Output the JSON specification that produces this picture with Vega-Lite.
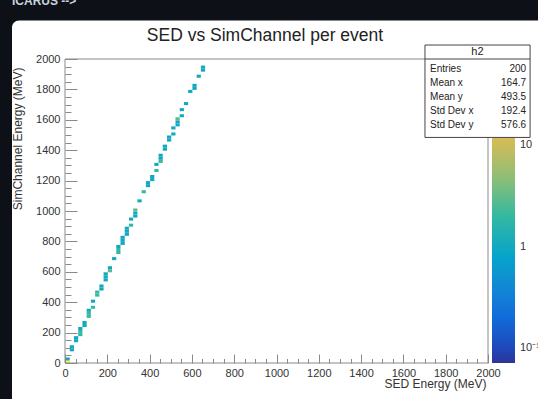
{
  "$schema": "https://vega.github.io/schema/vega-lite/v6.json",
  "width": 423,
  "height": 304,
  "autosize": {"type": "none"},
  "padding": {"left": 65, "top": 59, "right": 50, "bottom": 36},
  "background": "#0d1117",
  "config": {"view": {"stroke": null}, "font": "Liberation Sans", "axis": {"grid": false}},
  "title": {"text": "SED vs SimChannel per event", "font": "Liberation Sans", "fontSize": 17.5, "fontWeight": "normal", "color": "#222222", "anchor": "middle", "frame": "group", "dx": -11.5, "offset": -63.5, "baseline": "alphabetic"},
  "datasets": {
    "cells": [
      {"sed": 0, "sim": 0, "n": 68},
      {"sed": 0, "sim": 20, "n": 1},
      {"sed": 20, "sim": 80, "n": 1}, {"sed": 20, "sim": 100, "n": 1},
      {"sed": 40, "sim": 140, "n": 1}, {"sed": 40, "sim": 160, "n": 1},
      {"sed": 60, "sim": 180, "n": 2}, {"sed": 60, "sim": 200, "n": 2}, {"sed": 60, "sim": 220, "n": 1},
      {"sed": 80, "sim": 240, "n": 1}, {"sed": 80, "sim": 260, "n": 1},
      {"sed": 100, "sim": 300, "n": 2}, {"sed": 100, "sim": 320, "n": 2}, {"sed": 100, "sim": 340, "n": 1},
      {"sed": 120, "sim": 360, "n": 2}, {"sed": 120, "sim": 400, "n": 1},
      {"sed": 140, "sim": 440, "n": 2}, {"sed": 140, "sim": 460, "n": 2},
      {"sed": 160, "sim": 480, "n": 1}, {"sed": 160, "sim": 500, "n": 1},
      {"sed": 180, "sim": 540, "n": 1}, {"sed": 180, "sim": 560, "n": 1}, {"sed": 180, "sim": 580, "n": 1},
      {"sed": 200, "sim": 600, "n": 3}, {"sed": 200, "sim": 620, "n": 1},
      {"sed": 220, "sim": 680, "n": 1},
      {"sed": 240, "sim": 720, "n": 2}, {"sed": 240, "sim": 740, "n": 2}, {"sed": 240, "sim": 760, "n": 1},
      {"sed": 260, "sim": 780, "n": 1}, {"sed": 260, "sim": 800, "n": 1}, {"sed": 260, "sim": 820, "n": 1},
      {"sed": 280, "sim": 840, "n": 1}, {"sed": 280, "sim": 860, "n": 1}, {"sed": 280, "sim": 880, "n": 1},
      {"sed": 300, "sim": 900, "n": 2}, {"sed": 300, "sim": 940, "n": 1},
      {"sed": 320, "sim": 960, "n": 1}, {"sed": 320, "sim": 980, "n": 1}, {"sed": 320, "sim": 1000, "n": 3},
      {"sed": 340, "sim": 1060, "n": 1},
      {"sed": 360, "sim": 1120, "n": 2},
      {"sed": 380, "sim": 1160, "n": 1}, {"sed": 380, "sim": 1180, "n": 1},
      {"sed": 400, "sim": 1200, "n": 1}, {"sed": 400, "sim": 1220, "n": 1},
      {"sed": 420, "sim": 1260, "n": 2}, {"sed": 420, "sim": 1300, "n": 1},
      {"sed": 440, "sim": 1320, "n": 2}, {"sed": 440, "sim": 1340, "n": 1}, {"sed": 440, "sim": 1360, "n": 1},
      {"sed": 460, "sim": 1400, "n": 1}, {"sed": 460, "sim": 1420, "n": 1},
      {"sed": 480, "sim": 1460, "n": 1}, {"sed": 480, "sim": 1480, "n": 1},
      {"sed": 500, "sim": 1500, "n": 1}, {"sed": 500, "sim": 1540, "n": 1},
      {"sed": 520, "sim": 1560, "n": 1}, {"sed": 520, "sim": 1580, "n": 1}, {"sed": 520, "sim": 1600, "n": 3},
      {"sed": 540, "sim": 1620, "n": 1}, {"sed": 540, "sim": 1660, "n": 1},
      {"sed": 560, "sim": 1700, "n": 1},
      {"sed": 580, "sim": 1780, "n": 1},
      {"sed": 600, "sim": 1800, "n": 1}, {"sed": 600, "sim": 1820, "n": 1},
      {"sed": 620, "sim": 1880, "n": 1},
      {"sed": 640, "sim": 1920, "n": 1}, {"sed": 640, "sim": 1940, "n": 1}
    ],
    "stats": [
      {"names": ["Entries", "Mean x", "Mean y", "Std Dev x", "Std Dev y"], "vals": ["200", "164.7", "493.5", "192.4", "576.6"], "hist": "h2"}
    ]
  },
  "resolve": {"scale": {"color": "independent"}, "axis": {"x": "independent", "y": "independent"}},
  "layer": [
    {
      "data": {"values": [{}]},
      "mark": {"type": "rect", "fill": "white", "cornerRadius": 7},
      "encoding": {
        "x": {"datum": -250.6, "type": "quantitative", "scale": {"domain": [0, 2000], "nice": false, "zero": false}, "axis": null},
        "x2": {"datum": 3000},
        "y": {"datum": -600, "type": "quantitative", "scale": {"domain": [0, 2000], "nice": false, "zero": false}, "axis": null},
        "y2": {"datum": 2253}
      }
    },
    {
      "data": {"name": "cells"},
      "mark": {"type": "rect"},
      "encoding": {
        "x": {"field": "sed", "type": "quantitative", "bin": {"binned": true, "step": 20},
          "scale": {"domain": [0, 2000], "nice": false, "zero": false},
          "axis": {"orient": "bottom", "values": [0, 200, 400, 600, 800, 1000, 1200, 1400, 1600, 1800, 2000], "format": "d",
            "tickSize": -9, "labelPadding": 13, "tickColor": "#8a8a8a", "tickWidth": 1, "domain": false,
            "labelFont": "Liberation Sans", "labelFontSize": 11, "labelColor": "#333333", "labelFlush": false, "labelOverlap": false,
            "title": "SED Energy (MeV)", "titleFont": "Liberation Sans", "titleFontSize": 12, "titleFontWeight": "normal", "titleColor": "#333333",
            "titleAnchor": "end", "titleAlign": "right", "titleBaseline": "top", "titleX": 421, "titleY": 15.5, "zindex": 2}},
        "y": {"field": "sim", "type": "quantitative", "bin": {"binned": true, "step": 20},
          "scale": {"domain": [0, 2000], "nice": false, "zero": false},
          "axis": {"orient": "left", "values": [0, 200, 400, 600, 800, 1000, 1200, 1400, 1600, 1800, 2000], "format": "d",
            "tickSize": -12, "labelPadding": 17, "tickColor": "#8a8a8a", "tickWidth": 1, "domain": false,
            "labelFont": "Liberation Sans", "labelFontSize": 11, "labelColor": "#333333", "labelFlush": false, "labelOverlap": false,
            "title": "SimChannel Energy (MeV)", "titleFont": "Liberation Sans", "titleFontSize": 12, "titleFontWeight": "normal", "titleColor": "#333333",
            "titleAngle": -90, "titleAlign": "right", "titleBaseline": "alphabetic", "titleX": -44, "titleY": 8, "zindex": 2}},
        "color": {"field": "n", "type": "quantitative",
          "scale": {"type": "log", "domain": [0.0715, 0.1422, 0.3365, 0.796, 1.883, 4.452, 10.53, 24.9, 58.9, 70.7],
            "range": ["#2d3498", "#0f5cdd", "#1481d6", "#06a4ca", "#2eb7a4", "#87bf77", "#d1bb59", "#fec832", "#f9fb0e", "#f9fb0e"], "interpolate": "rgb"},
          "legend": null}
      }
    },
    {
      "data": {"values": [{}]},
      "mark": {"type": "rect", "fill": "transparent", "stroke": "#8a8a8a", "strokeWidth": 1},
      "encoding": {
        "x": {"datum": 0, "type": "quantitative", "scale": {"domain": [0, 2000], "nice": false, "zero": false}, "axis": null},
        "x2": {"datum": 2000},
        "y": {"datum": 0, "type": "quantitative", "scale": {"domain": [0, 2000], "nice": false, "zero": false}, "axis": null},
        "y2": {"datum": 2000}
      }
    },
    {
      "data": {"name": "cells"},
      "transform": [{"filter": "false"}],
      "mark": {"type": "rect"},
      "encoding": {
        "x": {"field": "sed", "type": "quantitative",
          "scale": {"domain": [0, 2000], "nice": false, "zero": false},
          "axis": {"orient": "bottom", "values": [50, 100, 150, 250, 300, 350, 450, 500, 550, 650, 700, 750, 850, 900, 950, 1050, 1100, 1150, 1250, 1300, 1350, 1450, 1500, 1550, 1650, 1700, 1750, 1850, 1900, 1950],
            "tickSize": -4.5, "tickColor": "#8a8a8a", "tickWidth": 1, "labels": false, "domain": false, "title": null, "zindex": 2}},
        "y": {"field": "sim", "type": "quantitative",
          "scale": {"domain": [0, 2000], "nice": false, "zero": false},
          "axis": {"orient": "left", "values": [50, 100, 150, 250, 300, 350, 450, 500, 550, 650, 700, 750, 850, 900, 950, 1050, 1100, 1150, 1250, 1300, 1350, 1450, 1500, 1550, 1650, 1700, 1750, 1850, 1900, 1950],
            "tickSize": -6, "tickColor": "#8a8a8a", "tickWidth": 1, "labels": false, "domain": false, "title": null, "zindex": 2}},
        "color": {"field": "n", "type": "quantitative",
          "scale": {"type": "log", "domain": [0.0715, 0.1422, 0.3365, 0.796, 1.883, 4.452, 10.53, 11.7],
            "range": ["#2d3498", "#0f5cdd", "#1481d6", "#06a4ca", "#2eb7a4", "#87bf77", "#d1bb59", "#d7bd54"], "interpolate": "rgb"},
          "legend": {"orient": "none", "legendX": 427, "legendY": 79, "direction": "vertical", "type": "gradient",
            "gradientLength": 225, "gradientThickness": 23, "gradientStrokeWidth": 0, "title": null, "padding": 0,
            "values": [0.1, 1, 10], "labelExpr": "datum.value < 0.5 ? '10⁻¹' : (datum.value < 5 ? '1' : '10')",
            "labelFont": "Liberation Sans", "labelFontSize": 11, "labelColor": "#333333", "labelOffset": 5, "labelOverlap": false}}
      }
    },
    {
      "data": {"name": "stats"},
      "mark": {"type": "rect", "fill": "white", "stroke": "#444444", "strokeWidth": 1},
      "encoding": {
        "x": {"datum": 1702, "type": "quantitative", "scale": {"domain": [0, 2000], "nice": false, "zero": false}, "axis": null},
        "x2": {"datum": 2199},
        "y": {"datum": 1484, "type": "quantitative", "scale": {"domain": [0, 2000], "nice": false, "zero": false}, "axis": null},
        "y2": {"datum": 2092}
      }
    },
    {
      "data": {"name": "stats"},
      "mark": {"type": "rule", "stroke": "#444444", "strokeWidth": 1},
      "encoding": {
        "x": {"datum": 1702, "type": "quantitative", "scale": {"domain": [0, 2000], "nice": false, "zero": false}, "axis": null},
        "x2": {"datum": 2199},
        "y": {"datum": 2000, "type": "quantitative", "scale": {"domain": [0, 2000], "nice": false, "zero": false}, "axis": null}
      }
    },
    {
      "data": {"name": "stats"},
      "mark": {"type": "text", "font": "Liberation Sans", "fontSize": 11, "color": "#222222", "align": "center", "baseline": "middle"},
      "encoding": {
        "x": {"datum": 1950, "type": "quantitative", "scale": {"domain": [0, 2000], "nice": false, "zero": false}, "axis": null},
        "y": {"datum": 2046, "type": "quantitative", "scale": {"domain": [0, 2000], "nice": false, "zero": false}, "axis": null},
        "text": {"field": "hist", "type": "nominal"}
      }
    },
    {
      "data": {"name": "stats"},
      "mark": {"type": "text", "font": "Liberation Sans", "fontSize": 10, "lineHeight": 14, "color": "#222222", "align": "left", "baseline": "middle"},
      "encoding": {
        "x": {"datum": 1726, "type": "quantitative", "scale": {"domain": [0, 2000], "nice": false, "zero": false}, "axis": null},
        "y": {"datum": 1932, "type": "quantitative", "scale": {"domain": [0, 2000], "nice": false, "zero": false}, "axis": null},
        "text": {"field": "names", "type": "nominal"}
      }
    },
    {
      "data": {"name": "stats"},
      "mark": {"type": "text", "font": "Liberation Sans", "fontSize": 10, "lineHeight": 14, "color": "#222222", "align": "right", "baseline": "middle"},
      "encoding": {
        "x": {"datum": 2180, "type": "quantitative", "scale": {"domain": [0, 2000], "nice": false, "zero": false}, "axis": null},
        "y": {"datum": 1932, "type": "quantitative", "scale": {"domain": [0, 2000], "nice": false, "zero": false}, "axis": null},
        "text": {"field": "vals", "type": "nominal"}
      }
    },
    {
      "data": {"values": [{"label": "ICARUS -->"}]},
      "mark": {"type": "text", "font": "Liberation Sans", "fontSize": 12, "fontWeight": "bold", "color": "#c9d1d9", "align": "left", "baseline": "alphabetic"},
      "encoding": {
        "x": {"datum": -250.6, "type": "quantitative", "scale": {"domain": [0, 2000], "nice": false, "zero": false}, "axis": null},
        "y": {"datum": 2355, "type": "quantitative", "scale": {"domain": [0, 2000], "nice": false, "zero": false}, "axis": null},
        "text": {"field": "label", "type": "nominal"}
      }
    }
  ]
}
